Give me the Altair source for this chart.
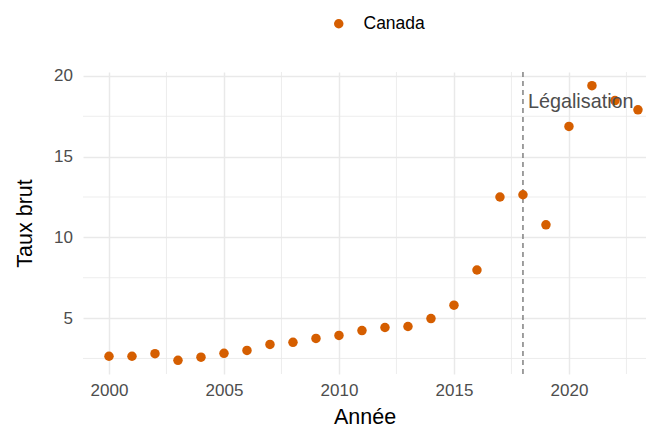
import altair as alt
import pandas as pd

years = list(range(2000, 2024))
taux = [2.64, 2.64, 2.80, 2.39, 2.58, 2.82, 3.00, 3.37, 3.50, 3.74, 3.93, 4.23,
        4.42, 4.48, 4.97, 5.80, 7.98, 12.50, 12.64, 10.78, 16.87, 19.39, 18.47, 17.90]
pays = ["Canada"] * len(years)
y_minor = [2.5, 7.5, 12.5, 17.5]
x_minor = [2002.5, 2007.5, 2012.5, 2017.5, 2022.5]
legal_year = [2018]
legal_label = ["Légalisation"]
legal_label_y = [18.4]

df = pd.DataFrame({"Année": years, "Taux": taux, "Pays": pays})
df_ym = pd.DataFrame({"y": y_minor})
df_xm = pd.DataFrame({"x": x_minor})
df_leg = pd.DataFrame({"x": legal_year, "label": legal_label, "y": legal_label_y})

xs = alt.Scale(domain=[1998.87, 2023.35], nice=False, zero=False)
ys = alt.Scale(domain=[1.54, 20.24], nice=False, zero=False)

grid_col = "#e9e9e9"
font = "Liberation Sans"

ymin_rules = alt.Chart(df_ym).mark_rule(color=grid_col, strokeWidth=0.8).encode(
    y=alt.Y("y:Q", scale=ys)
)
xmin_rules = alt.Chart(df_xm).mark_rule(color=grid_col, strokeWidth=0.8).encode(
    x=alt.X("x:Q", scale=xs)
)

points = alt.Chart(df).mark_circle(size=90, opacity=1).encode(
    x=alt.X("Année:Q", scale=xs, title="Année",
            axis=alt.Axis(values=[2000, 2005, 2010, 2015, 2020], format="d")),
    y=alt.Y("Taux:Q", scale=ys, title="Taux brut",
            axis=alt.Axis(values=[5, 10, 15, 20])),
    color=alt.Color("Pays:N", scale=alt.Scale(range=["#D55E00"]),
                    legend=alt.Legend(title=None, orient="none", legendX=247, legendY=-57,
                                      direction="horizontal", symbolSize=90,
                                      labelFontSize=17.5, labelColor="#000000",
                                      labelFont=font, labelOffset=16)),
)

vline = alt.Chart(df_leg).mark_rule(color="#808080", strokeDash=[5, 4], strokeWidth=1.5).encode(
    x=alt.X("x:Q", scale=xs)
)
label = alt.Chart(df_leg).mark_text(align="left", baseline="middle", dx=5, fontSize=19.8,
                                    color="#4d4d4d", font=font).encode(
    x=alt.X("x:Q", scale=xs), y=alt.Y("y:Q", scale=ys), text="label:N"
)

chart = alt.layer(ymin_rules, xmin_rules, vline, points, label).properties(
    width=563, height=302,
    autosize=alt.AutoSizeParams(type="none"),
    padding={"left": 75, "top": 64, "right": 0, "bottom": 53},
).configure_view(stroke=None).configure_axis(
    grid=True, gridColor=grid_col, gridWidth=1.5, domain=False, ticks=False,
    labelColor="#4d4d4d", labelFontSize=17, labelFont=font,
    titleFontSize=21.5, titleFont=font, titleColor="#000000",
    titleFontWeight="normal",
).configure_axisX(labelPadding=8, titlePadding=8).configure_axisY(
    labelPadding=10.5, titlePadding=17
)

chart.save("out.html", embed_options={"renderer": "svg", "actions": False})
